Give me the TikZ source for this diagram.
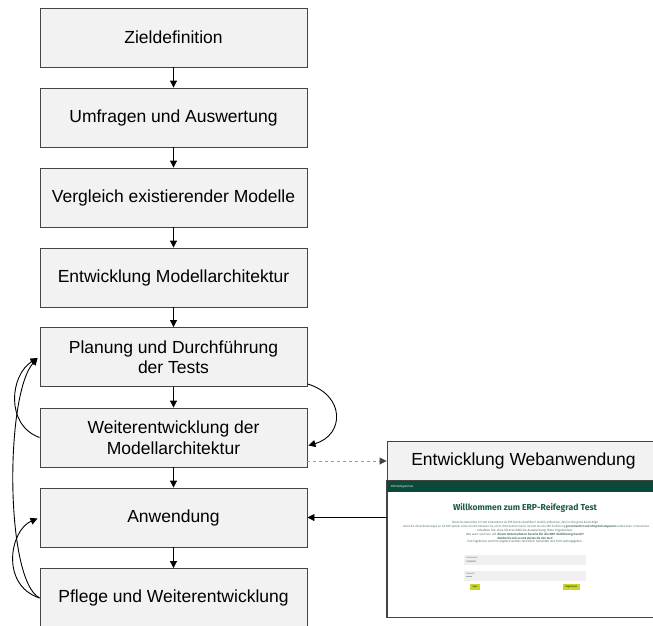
\documentclass[tikz,border=0pt]{standalone}
\usepackage{fontspec}
\usepackage{graphicx}
\setmainfont{Liberation Sans}
\newfontfamily\webfont{Fira Sans}
\usetikzlibrary{arrows.meta,calc}

\definecolor{boxfill}{HTML}{F2F2F2}
\definecolor{boxline}{HTML}{444444}
\definecolor{erpgreen}{HTML}{0B4A3B}
\definecolor{headgreen}{HTML}{1E5A44}
\definecolor{smalltext}{HTML}{4F6E62}
\definecolor{fieldgray}{HTML}{F0F0F0}
\definecolor{btnyellow}{HTML}{CAD52C}
\definecolor{dashgray}{HTML}{9A9A9A}

\tikzset{
  stepbox/.style={draw=boxline, line width=0.9pt, fill=boxfill,
    minimum width=267pt, minimum height=59pt, inner sep=0pt,
    align=center, font=\fontsize{17.5}{20.5}\selectfont},
  flow/.style={line width=0.9pt, -{Triangle[length=7pt,width=7pt]}},
  tinyline/.style={inner sep=0pt, text=smalltext},
}

% tiny text squeezed to a given width and height
\newcommand{\tinytxt}[3]{\resizebox{#1}{#2}{\webfont #3}}

\begin{document}
\begin{tikzpicture}[x=1pt,y=-1pt]
\useasboundingbox (0,0) rectangle (653,625);
\clip (0,0) rectangle (653,625);

% main process chain
\node[stepbox] (z)  at (173.5,37.5)  {Zieldefinition};
\node[stepbox] (u)  at (173.5,117.5) {Umfragen und Auswertung};
\node[stepbox] (v)  at (173.5,197.5) {Vergleich existierender Modelle};
\node[stepbox] (e)  at (173.5,277.5) {Entwicklung Modellarchitektur};
\node[stepbox] (p)  at (173.5,357)   {Planung und Durchführung\\der Tests};
\node[stepbox] (w)  at (173.5,437.5) {Weiterentwicklung der\\Modellarchitektur};
\node[stepbox] (a)  at (173.5,517.5) {Anwendung};
\node[stepbox] (pf) at (173.5,598)   {Pflege und Weiterentwicklung};

\foreach \s/\t in {z/u, u/v, v/e, e/p, p/w, w/a, a/pf}
  \draw[flow] (\s) -- (\t);

% feedback loops
\draw[flow] ($(p.south east)+(0,-3)$) .. controls (345,395) and (345,435) .. ($(w.east)+(1,8)$);
\draw[flow] (w.west) .. controls (5,425) and (10,375) .. ($(p.west)+(-2,1)$);
\draw[flow] (pf.west) .. controls (5,580) and (5,395) .. ($(p.west)+(-2,1)$);
\draw[flow] (pf.west) .. controls (0,585) and (10,530) .. ($(a.west)+(-2,1)$);

% web application box with its screenshot
\node[stepbox, minimum width=273pt, minimum height=40pt] (web) at (523.5,461) {Entwicklung Webanwendung};
\node[draw=boxline, line width=0.9pt, fill=white, minimum width=273pt,
      minimum height=136pt, inner sep=0pt] (shot) at (523.5,549) {};

\fill[erpgreen] (shot.north west) rectangle ($(shot.north east)+(0,11)$);
\node[inner sep=0pt, text=white, anchor=west] (bar) at (391,486.5) {\tinytxt{22pt}{2.2pt}{ERP-Reifegrad Test}};

\node[inner sep=0pt, text=headgreen] (head) at (525,507.5)
  {\resizebox{144pt}{!}{\webfont\bfseries Willkommen zum ERP-Reifegrad Test}};

\node[tinyline] (l1) at (525,522.5) {\tinytxt{146pt}{2.4pt}{Planen Sie demnächst, in Ihrem Unternehmen ein ERP-System einzuführen? Herzlich willkommen, dann ist dies genau das Richtige!}};
\node[tinyline] (l2) at (526,526.5) {\tinytxt{246pt}{2.4pt}{Leiten Sie die Anforderungen an ein ERP-System sicher ab und erkennen Sie, ob Ihr Unternehmen bereit ist oder ob eine ERP-Einführung \textbf{gut vorbereitet und erfolgreich umgesetzt} werden kann. Im Anschluss}};
\node[tinyline] (l3) at (525,530.5) {\tinytxt{96pt}{2.4pt}{erhalten Sie eine übersichtliche Auswertung Ihrer Ergebnisse.}};
\node[tinyline] (l4) at (525,534.5) {\tinytxt{118pt}{2.4pt}{Wie weit sind Sie mit \textbf{Ihrem Unternehmen bereits für die ERP-Einführung bereit?}}};
\node[tinyline] (l5) at (525,538)   {\tinytxt{55pt}{2.4pt}{\textbf{Melden Sie sich an und starten Sie den Test!}}};
\node[tinyline] (l6) at (525,541.5) {\tinytxt{115pt}{2.4pt}{Ihre Ergebnisse und Ihre Angaben werden vertraulich behandelt und nicht weitergegeben.}};

% login form
\fill[fieldgray] (464,555) rectangle (586,565);
\fill[fieldgray] (464,571) rectangle (586,581);
\node[tinyline, anchor=west] (f1a) at (466,557.5) {\tinytxt{12pt}{1.6pt}{E-Mail-Adresse *}};
\node[tinyline, anchor=west] (f1b) at (466,561.5) {\tinytxt{10pt}{2pt}{max@web.de}};
\node[tinyline, anchor=west] (f2a) at (466,573.5) {\tinytxt{9pt}{1.6pt}{Passwort *}};
\node[tinyline, anchor=west] (f2b) at (466,577.5) {\tinytxt{6pt}{2pt}{••••••}};

\node[fill=btnyellow, minimum width=10pt, minimum height=6pt, inner sep=0pt] (login) at (475,587)
  {\tinytxt{5pt}{1.8pt}{Login}};
\node[fill=btnyellow, minimum width=17pt, minimum height=6pt, inner sep=0pt] (reg) at (571.5,587)
  {\tinytxt{12pt}{1.8pt}{Registrieren}};

\draw[boxline, line width=0.9pt] (shot.north west) rectangle (shot.south east);

% links to the web application
\draw[dashgray, line width=0.9pt, dashed, -{Triangle[length=7pt,width=7pt,color=boxline]}]
  (w.east |- web.west) -- (web.west);
\draw[flow] (shot.west |- a.east) -- (a.east);

\end{tikzpicture}
\end{document}
